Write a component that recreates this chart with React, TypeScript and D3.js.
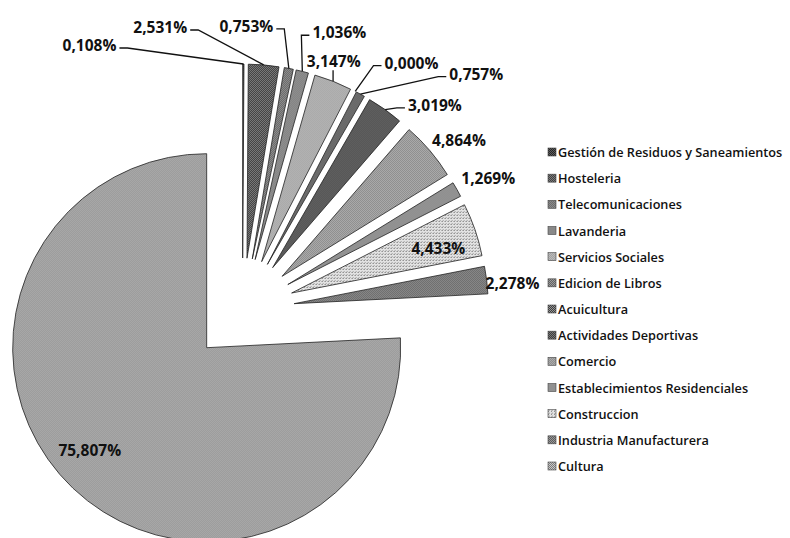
import * as d3 from "d3";

const categories = [
  "Gestión de Residuos y Saneamientos",
  "Hosteleria",
  "Telecomunicaciones",
  "Lavanderia",
  "Servicios Sociales",
  "Edicion de Libros",
  "Acuicultura",
  "Actividades Deportivas",
  "Comercio",
  "Establecimientos Residenciales",
  "Construccion",
  "Industria Manufacturera",
  "Cultura",
];

// percent share of each sector
const shares = [
  0.108, 2.531, 0.753, 1.036, 3.147, 0.0, 0.757, 3.019, 4.864, 1.269, 4.433,
  2.278, 75.807,
];

// halftone look of the scanned original: [dark dot, light background]
const fillPairs: [string, string][] = [
  ["#262626", "#5e5e5e"],
  ["#333333", "#8a8a8a"],
  ["#4f4f4f", "#a8a8a8"],
  ["#5e5e5e", "#b4b4b4"],
  ["#8a8a8a", "#d2d2d2"],
  ["#555555", "#aaaaaa"],
  ["#3e3e3e", "#969696"],
  ["#2e2e2e", "#888888"],
  ["#737373", "#c6c6c6"],
  ["#666666", "#bcbcbc"],
  ["#6a6a6a", "#e2e2e2"],
  ["#505050", "#a6a6a6"],
  ["#7c7c7c", "#c8c8c8"],
];

const W = 790;
const H = 538;
const cx = 242.5;
const cy = 310;
const radius = 194;
const explode = 52;
const labelRing = radius + explode + 29;
const labelHalfW = 28;
const labelHalfH = 8;

// where Excel's labels were dragged to (nudge from the default spot)
const labelPlacement = [
  { inside: false, dx: -154, dy: 10, leader: true },
  { inside: false, dx: -106, dy: -9, leader: true },
  { inside: false, dx: -48, dy: -14, leader: true },
  { inside: false, dx: 30, dy: -11, leader: true },
  { inside: false, dx: -10, dy: 7, leader: true },
  { inside: false, dx: 43, dy: -3, leader: true },
  { inside: false, dx: 102, dy: 5, leader: true },
  { inside: false, dx: 33, dy: 19, leader: true },
  { inside: false, dx: 7, dy: 8, leader: false },
  { inside: false, dx: 6, dy: 3, leader: false },
  { inside: true, dx: 0, dy: 6, leader: false },
  { inside: false, dx: -3, dy: 6, leader: false },
  { inside: true, dx: -10, dy: -10, leader: false },
];

const locale = d3.formatLocale({
  decimal: ",",
  thousands: ".",
  grouping: [3],
  currency: ["", "€"],
});
const fmt = locale.format(".3f");

const unit = (a: number): [number, number] => [Math.sin(a), -Math.cos(a)];

export default function App() {
  const pie = d3
    .pie<number>()
    .sort(null)
    .value((d) => d)(shares);
  const arc = d3
    .arc<d3.PieArcDatum<number>>()
    .innerRadius(0)
    .outerRadius(radius);

  const legendY = d3
    .scalePoint<string>()
    .domain(categories)
    .range([152, 466]);

  const slices = pie.map((p, i) => {
    const mid = (p.startAngle + p.endAngle) / 2;
    const [ux, uy] = unit(mid);
    const place = labelPlacement[i];
    const ring = place.inside ? explode + radius * 0.8 : labelRing;
    const lx = ux * ring + place.dx;
    const ly = uy * ring + place.dy;
    const ax = ux * (explode + radius);
    const ay = uy * (explode + radius);
    let leader = "";
    if (place.leader) {
      if (ax < lx - labelHalfW) {
        const sx = lx - labelHalfW - 2;
        const sy = ly + 3;
        leader = `M${sx},${sy}H${sx - 8}L${ax},${ay}`;
      } else if (ax > lx + labelHalfW) {
        const sx = lx + labelHalfW + 2;
        const sy = ly + 3;
        leader = `M${sx},${sy}H${sx + 8}L${ax},${ay}`;
      } else {
        leader = `M${ax},${ly + labelHalfH + 1}L${ax},${ay}`;
      }
    }
    return { p, i, ux, uy, lx, ly, leader };
  });

  return (
    <svg
      width={W}
      height={H}
      viewBox={`0 0 ${W} ${H}`}
      style={{ position: "absolute", left: 0, top: 0, background: "#fff" }}
      fontFamily="'Open Sans', 'Noto Sans', sans-serif"
    >
      <defs>
        {fillPairs.map(([dark, light], i) => (
          <pattern
            key={i}
            id={`pat-${i}`}
            width={i === 10 ? 3 : 2}
            height={i === 10 ? 3 : 2}
            patternUnits="userSpaceOnUse"
          >
            <rect width={3} height={3} fill={light} />
            <rect x={0} y={0} width={1} height={1} fill={dark} />
            {i === 10 ? (
              <rect x={1} y={2} width={1} height={1} fill="#a0a0a0" />
            ) : (
              <rect x={1} y={1} width={1} height={1} fill={dark} />
            )}
          </pattern>
        ))}
      </defs>

      <g transform={`translate(${cx},${cy})`}>
        {slices.map(({ p, i, ux, uy }) =>
          p.value > 0 ? (
            <path
              key={`s-${i}`}
              d={arc(p) || ""}
              transform={`translate(${ux * explode},${uy * explode})`}
              fill={`url(#pat-${i})`}
              stroke="#222"
              strokeWidth={0.8}
            />
          ) : null
        )}

        {slices.map(({ i, leader }) =>
          leader ? (
            <path
              key={`l-${i}`}
              d={leader}
              fill="none"
              stroke="#111"
              strokeWidth={1.3}
            />
          ) : null
        )}

        {slices.map(({ p, i, lx, ly }) => (
          <text
            key={`t-${i}`}
            x={lx}
            y={ly}
            textAnchor="middle"
            dominantBaseline="central"
            fontSize={15.5}
            fontWeight={700}
            fill="#111"
          >
            {fmt(p.value)}%
          </text>
        ))}
      </g>

      {/* legend */}
      {categories.map((c, i) => (
        <g key={c} transform={`translate(548,${legendY(c)})`}>
          <rect
            x={0}
            y={-4}
            width={8}
            height={8}
            fill={`url(#pat-${i})`}
            stroke="#444"
            strokeWidth={0.6}
          />
          <text
            x={10}
            y={0}
            dominantBaseline="central"
            fontSize={12.7}
            fontWeight={600}
            fill="#111"
          >
            {c}
          </text>
        </g>
      ))}
    </svg>
  );
}
